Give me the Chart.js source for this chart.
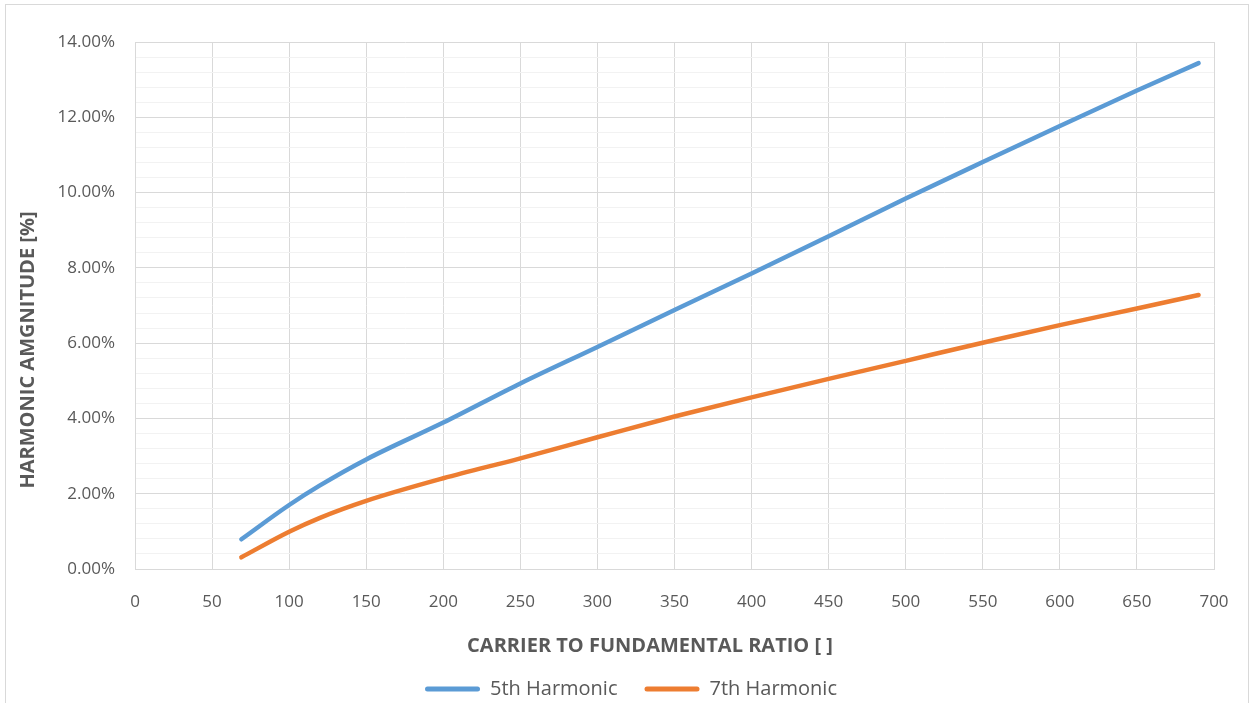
<!DOCTYPE html>
<html>
<head>
<meta charset="utf-8">
<script src="https://cdn.jsdelivr.net/npm/chart.js@4/dist/chart.umd.min.js"></script>
<style>
  html, body { margin: 0; padding: 0; background: #ffffff; }
  #wrap { width: 1253px; height: 703px; position: relative; }
</style>
</head>
<body>
<div id="wrap"><canvas id="c" width="1253" height="703"></canvas></div>
<script>
// Data
const ratios = [69, 100, 120, 150, 200, 250, 300, 350, 400, 450, 500, 550, 600, 650, 690];
const harmonic5 = [0.79, 1.70, 2.22, 2.91, 3.89, 4.93, 5.90, 6.88, 7.85, 8.84, 9.84, 10.81, 11.77, 12.71, 13.44];
const harmonic7 = [0.31, 0.99, 1.36, 1.81, 2.41, 2.94, 3.50, 4.05, 4.56, 5.05, 5.53, 6.01, 6.48, 6.92, 7.28];
const seriesNames = ['5th Harmonic', '7th Harmonic'];
const xTitle = 'CARRIER TO FUNDAMENTAL RATIO [ ]';
const yTitle = 'HARMONIC AMGNITUDE [%]';

const FONT = '"Open Sans", Lato, sans-serif';
const TEXT = '#595959';

const toPts = (xs, ys) => xs.map((x, i) => ({ x: x, y: ys[i] }));

const borderPlugin = {
  id: 'outerBorder',
  beforeDraw(chart) {
    const ctx = chart.ctx;
    ctx.save();
    ctx.fillStyle = '#ffffff';
    ctx.fillRect(0, 0, chart.width, chart.height);
    ctx.strokeStyle = '#d9d9d9';
    ctx.lineWidth = 1;
    ctx.strokeRect(5.5, 4.5, 1243, 702);
    ctx.restore();
  },
  afterLayout(chart) {
    // shift legend to match the reference placement
    const lg = chart.legend;
    if (lg) {
      lg.left += 19; lg.right += 19;
      lg.top += 6; lg.bottom += 6;
    }
  },
  afterDraw(chart) {
    // axis titles, positioned as in the reference (moved off-centre there)
    const ctx = chart.ctx;
    ctx.save();
    ctx.font = 'bold 20px ' + FONT;
    ctx.fillStyle = TEXT;
    ctx.textAlign = 'center';
    ctx.textBaseline = 'middle';
    ctx.fillText(xTitle, 650, 646);
    ctx.translate(28, 350);
    ctx.rotate(-Math.PI / 2);
    ctx.fillText(yTitle, 0, 0);
    ctx.restore();
  }
};

const isMajor = v => Math.abs(v / 2 - Math.round(v / 2)) < 1e-6;

new Chart(document.getElementById('c'), {
  type: 'line',
  data: {
    datasets: [
      {
        label: seriesNames[0],
        data: toPts(ratios, harmonic5),
        borderColor: '#5b9bd5',
        backgroundColor: '#5b9bd5',
        borderWidth: 4.5,
        borderCapStyle: 'round',
        pointRadius: 0,
        cubicInterpolationMode: 'monotone',
        fill: false
      },
      {
        label: seriesNames[1],
        data: toPts(ratios, harmonic7),
        borderColor: '#ed7d31',
        backgroundColor: '#ed7d31',
        borderWidth: 4.5,
        borderCapStyle: 'round',
        pointRadius: 0,
        cubicInterpolationMode: 'monotone',
        fill: false
      }
    ]
  },
  options: {
    responsive: false,
    animation: false,
    layout: { padding: { top: 42, right: 39, left: 10, bottom: 0 } },
    plugins: {
      legend: {
        position: 'bottom',
        labels: {
          font: { family: FONT, size: 20 },
          color: TEXT,
          boxWidth: 55,
          boxHeight: 5,
          padding: 27,
          useBorderRadius: true,
          borderRadius: 2.5,
          generateLabels(chart) {
            const items = Chart.defaults.plugins.legend.labels.generateLabels(chart);
            items.forEach(it => { it.lineWidth = 0; it.strokeStyle = 'rgba(0,0,0,0)'; });
            return items;
          }
        }
      },
      tooltip: { enabled: false }
    },
    scales: {
      x: {
        type: 'linear',
        min: 0,
        max: 700,
        ticks: {
          stepSize: 50,
          padding: 23,
          color: TEXT,
          font: { family: FONT, size: 17 }
        },
        grid: { color: '#d9d9d9', drawTicks: false, lineWidth: 1 },
        border: { display: true, color: '#d9d9d9' },
        title: { display: false, text: xTitle },
        afterFit(scale) { scale.height = 77; }
      },
      y: {
        min: 0,
        max: 14,
        ticks: {
          stepSize: 0.4,
          autoSkip: false,
          padding: 20,
          color: TEXT,
          font: { family: FONT, size: 17 },
          callback: v => isMajor(v) ? v.toFixed(2) + '%' : ''
        },
        grid: {
          drawTicks: false,
          lineWidth: 1,
          color: ctx => (ctx.tick && isMajor(ctx.tick.value)) ? '#d9d9d9' : '#f2f2f2'
        },
        border: { display: true, color: '#d9d9d9' },
        title: { display: false, text: yTitle },
        afterFit(scale) { scale.width = 125; }
      }
    }
  },
  plugins: [borderPlugin]
});
</script>
</body>
</html>
